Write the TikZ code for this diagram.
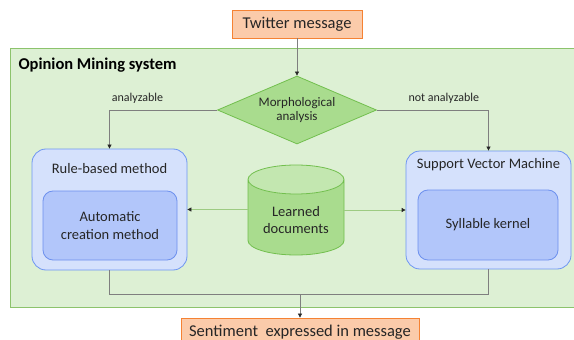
\documentclass[tikz,border=0pt]{standalone}
\usepackage{fontspec}
\setmainfont{Carlito}
\usetikzlibrary{shapes.geometric,arrows.meta,positioning}

\definecolor{peach}{HTML}{FBCBAA}
\definecolor{peachline}{HTML}{F58233}
\definecolor{sysfill}{HTML}{DDF0D4}
\definecolor{sysline}{HTML}{8CC36C}
\definecolor{leaffill}{HTML}{A9DC8E}
\definecolor{leaftop}{HTML}{C3E7B0}
\definecolor{leafline}{HTML}{72BF4E}
\definecolor{feedline}{HTML}{9DCB82}
\definecolor{outerfill}{HTML}{D5E1FC}
\definecolor{outerline}{HTML}{6E96F2}
\definecolor{innerfill}{HTML}{B2C6FA}
\definecolor{innerline}{HTML}{6D90EE}
\definecolor{flow}{HTML}{7F7F7F}
\definecolor{ink}{HTML}{262626}

\tikzset{
  io/.style={draw=peachline, fill=peach, line width=0.8pt, text=ink,
    font=\fontsize{16.5}{19}\selectfont, inner sep=0pt, minimum height=28pt},
  decision/.style={diamond, draw=leafline, fill=leaffill, line width=0.8pt, text=ink,
    font=\fontsize{13}{14}\selectfont, align=center, inner sep=0pt, aspect=2.34,
    minimum width=159pt, minimum height=68pt},
  store/.style={cylinder, shape border rotate=90, aspect=0.4, draw=leafline, line width=0.8pt,
    cylinder uses custom fill, cylinder body fill=leaffill, cylinder end fill=leaftop,
    text=ink, font=\fontsize{14.5}{17.5}\selectfont, align=center,
    minimum width=96pt, minimum height=90pt},
  method/.style={draw=outerline, fill=outerfill, line width=0.8pt, rounded corners=14pt},
  part/.style={draw=innerline, fill=innerfill, line width=0.8pt, rounded corners=10pt,
    text=ink, font=\fontsize{14.5}{17.5}\selectfont, align=center},
  caption/.style={text=ink, font=\fontsize{14.5}{17}\selectfont},
  tag/.style={text=ink, font=\fontsize{12}{14}\selectfont},
  flowline/.style={draw=flow, line width=0.7pt},
  tip/.style={-{Triangle[length=4pt,width=4pt,color=ink]}}
}

\begin{document}
\begin{tikzpicture}[x=1pt, y=-1pt]
    \useasboundingbox (0,0) rectangle (574,340);
    \draw[draw=sysline, fill=sysfill, line width=0.9pt] (10,48) rectangle (590,307);
    \node (title) [anchor=west, text=black, font=\fontsize{16.5}{19}\selectfont\bfseries] at (15,65) {Opinion Mining system};

    \node (twitter) [io, minimum width=130pt] at (297,24) {Twitter message};
    \node (morph) [decision] at (297,110) {Morphological\\analysis};
    \node (docs) [store, anchor=shape center] at (296,210) {Learned\\documents};

    \node (rule) [method, minimum width=155pt, minimum height=121pt] at (109.5,209.5) {};
    \node (rulename) [caption] at (109.5,169) {Rule-based method};
    \node (auto) [part, minimum width=134pt, minimum height=69pt] at (110,225.5) {Automatic\\creation method};

    \node (svm) [method, minimum width=165pt, minimum height=118pt] at (488.5,210) {};
    \node (svmname) [caption] at (488.5,165) {Support Vector Machine};
    \node (kernel) [part, minimum width=140pt, minimum height=70pt] at (488,225) {Syllable kernel};

    \node (sentiment) [io, minimum width=238pt] at (300,332) {Sentiment\ \ expressed in message};
    \coordinate (merge) at (300,294);

    \draw[flowline, tip] (twitter) -- (morph);
    \draw[flowline, tip] (morph.west) -| node[tag, pos=0.37, above=3pt] {analyzable} (rule.north);
    \draw[flowline, tip] (morph.east) -| node[tag, pos=0.3, above=3pt] {not analyzable} (svm.north);
    \draw[draw=feedline, line width=0.8pt, tip] (docs.west |- rule.east) -- (rule.east);
    \draw[draw=feedline, line width=0.8pt, tip] (docs.east |- svm.west) -- (svm.west);
    \draw[flowline] (rule.south) |- (merge);
    \draw[flowline] (svm.south) |- (merge);
    \draw[flowline, tip] (merge) -- (sentiment.north);
\end{tikzpicture}
\end{document}
